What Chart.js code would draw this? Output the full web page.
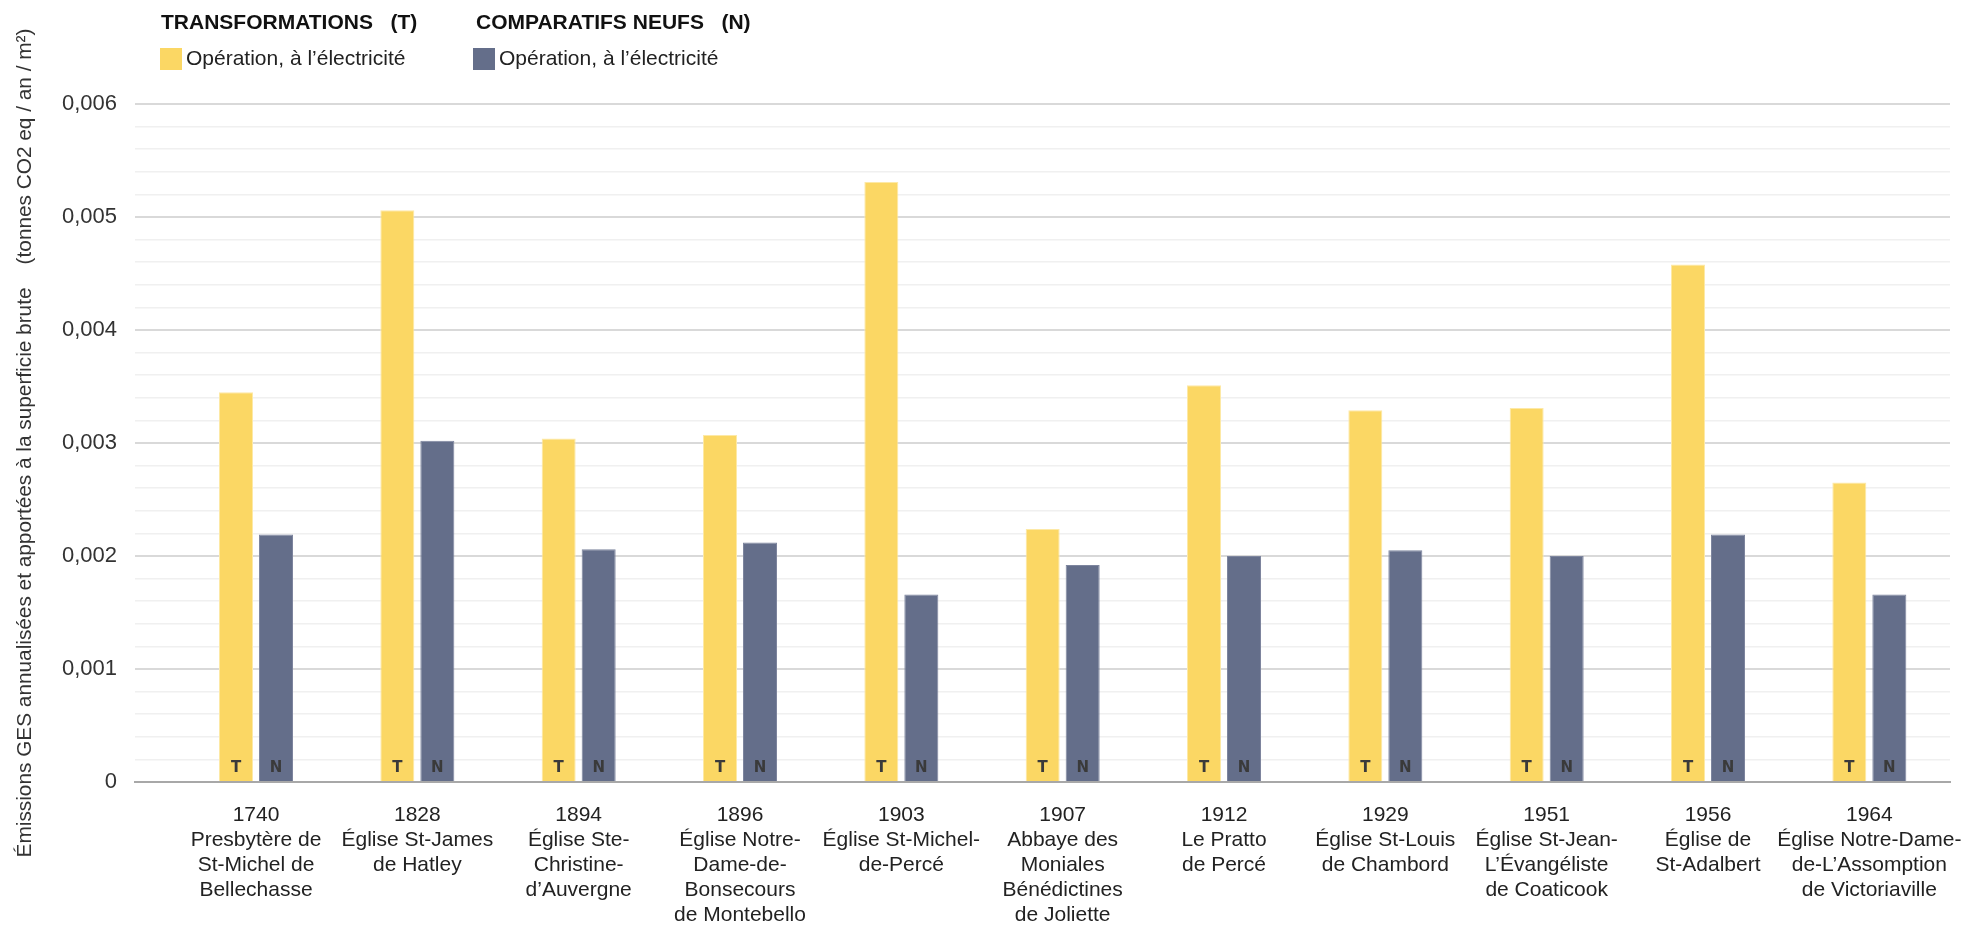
<!DOCTYPE html>
<html>
<head>
<meta charset="utf-8">
<script src="https://cdn.jsdelivr.net/npm/chart.js@4.4.1/dist/chart.umd.min.js"></script>
<style>
  html, body { margin: 0; padding: 0; background: #ffffff; overflow: hidden; }
  #wrap { position: relative; width: 1963px; height: 926px; }
</style>
</head>
<body>
<div id="wrap"><canvas id="chart" width="1963" height="926"></canvas></div>
<script>
// Construction year and building name (one entry per line of the axis label)
const years = ['1740', '1828', '1894', '1896', '1903', '1907', '1912', '1929', '1951', '1956', '1964'];
const buildings = [
  ['Presbytère de', 'St-Michel de', 'Bellechasse'],
  ['Église St-James', 'de Hatley'],
  ['Église Ste-', 'Christine-', 'd’Auvergne'],
  ['Église Notre-', 'Dame-de-', 'Bonsecours', 'de Montebello'],
  ['Église St-Michel-', 'de-Percé'],
  ['Abbaye des', 'Moniales', 'Bénédictines', 'de Joliette'],
  ['Le Pratto', 'de Percé'],
  ['Église St-Louis', 'de Chambord'],
  ['Église St-Jean-', 'L’Évangéliste', 'de Coaticook'],
  ['Église de', 'St-Adalbert'],
  ['Église Notre-Dame-', 'de-L’Assomption', 'de Victoriaville']
];

// Annual operating emissions, electricity (t CO2 eq / yr / m²)
const transformations = [0.00345, 0.00506, 0.00304, 0.00307, 0.00531, 0.00224, 0.00351, 0.00329, 0.00331, 0.00458, 0.00265];
const comparatifsNeufs = [0.00219, 0.00302, 0.00206, 0.00212, 0.00166, 0.00192, 0.00200, 0.00205, 0.00200, 0.00219, 0.00166];

const seriesCodes = ['T', 'N'];
const seriesHeadings = ['TRANSFORMATIONS   (T)', 'COMPARATIFS NEUFS   (N)'];
const seriesLabels = ['Opération, à l’électricité', 'Opération, à l’électricité'];
const seriesColors = ['#FBD764', '#646E8A'];
const seriesBorders = ['#FDE9A6', '#7D859E'];

const yAxisTitle = 'Émissions GES annualisées et apportées à la superficie brute    (tonnes CO2 eq / an / m²)';
const yMax = 0.006;
const yStep = 0.0002;   // minor grid step
const yMajorEvery = 5;  // labelled every 0.001

const FONT = '"Liberation Sans", Arial, sans-serif';

const toPoints = arr => arr.map((v, i) => ({ x: i, y: v }));

// Draws the "T" / "N" marker at the foot of each bar
const barCodes = {
  id: 'barCodes',
  afterDatasetsDraw(chart) {
    const ctx = chart.ctx;
    ctx.save();
    ctx.font = 'bold 15px "DejaVu Sans", sans-serif';
    ctx.fillStyle = '#3a3a3a';
    ctx.textAlign = 'center';
    ctx.textBaseline = 'middle';
    chart.data.datasets.forEach((ds, d) => {
      chart.getDatasetMeta(d).data.forEach(bar => {
        ctx.fillText(seriesCodes[d], bar.x, bar.base - 13);
      });
    });
    ctx.restore();
  }
};

// Two-column legend with bold headings above the swatches
const headedLegend = {
  id: 'headedLegend',
  afterDraw(chart) {
    const ctx = chart.ctx;
    const cols = [{ head: 161, box: 160, text: 186 }, { head: 476, box: 473, text: 499 }];
    ctx.save();
    ctx.textBaseline = 'alphabetic';
    ctx.textAlign = 'left';
    cols.forEach((c, i) => {
      ctx.font = 'bold 21px ' + FONT;
      ctx.fillStyle = '#111111';
      ctx.fillText(seriesHeadings[i], c.head, 29);
      ctx.fillStyle = seriesColors[i];
      ctx.fillRect(c.box, 48, 22, 22);
      ctx.font = '21px ' + FONT;
      ctx.fillStyle = '#222222';
      ctx.fillText(seriesLabels[i], c.text, 65);
    });
    ctx.restore();
  }
};

new Chart(document.getElementById('chart'), {
  type: 'bar',
  data: {
    datasets: [
      {
        label: seriesHeadings[0],
        data: toPoints(transformations),
        backgroundColor: seriesColors[0],
        borderColor: seriesBorders[0],
        borderWidth: 1
      },
      {
        label: seriesHeadings[1],
        data: toPoints(comparatifsNeufs),
        backgroundColor: seriesColors[1],
        borderColor: seriesBorders[1],
        borderWidth: 1
      }
    ]
  },
  options: {
    responsive: false,
    animation: false,
    devicePixelRatio: 1,
    categoryPercentage: 0.496,
    barPercentage: 0.85,
    layout: { padding: { top: 104, right: 13, bottom: 0, left: 0 } },
    plugins: {
      legend: { display: false },
      tooltip: { enabled: false }
    },
    scales: {
      x: {
        type: 'linear',
        offset: false,
        min: -0.75,
        max: 10.5,
        grid: { display: false, drawTicks: false },
        border: { display: true, color: '#a8a8a8', width: 2 },
        afterBuildTicks(scale) {
          scale.ticks = years.map((_, i) => ({ value: i }));
        },
        afterFit(scale) {
          scale.height = 144;
          scale.paddingLeft = 0;
          scale.paddingRight = 0;
        },
        ticks: {
          autoSkip: false,
          maxRotation: 0,
          minRotation: 0,
          padding: 21,
          color: '#222222',
          font: { family: FONT, size: 21, lineHeight: '25px' },
          callback: (v) => [years[v]].concat(buildings[v])
        }
      },
      y: {
        min: 0,
        max: yMax,
        grid: {
          drawTicks: false,
          color: ctx => (ctx.index % yMajorEvery === 0 ? '#d9d9d9' : '#f0f0f0'),
          lineWidth: ctx => (ctx.index % yMajorEvery === 0 ? 2 : 1.6)
        },
        border: { display: false },
        afterBuildTicks(scale) {
          const n = Math.round(yMax / yStep);
          const ticks = [];
          for (let i = 0; i <= n; i++) ticks.push({ value: +(i * yStep).toFixed(4) });
          scale.ticks = ticks;
        },
        afterFit(scale) { scale.width = 135; },
        ticks: {
          autoSkip: false,
          padding: 18,
          color: '#333333',
          font: { family: FONT, size: 22 },
          callback: (v, i) => {
            if (i % yMajorEvery !== 0) return '';
            return v === 0 ? '0' : v.toFixed(3).replace('.', ',');
          }
        },
        title: {
          display: true,
          text: yAxisTitle,
          color: '#333333',
          font: { family: FONT, size: 20.8 },
          padding: { top: 13, bottom: 0 }
        }
      }
    }
  },
  plugins: [barCodes, headedLegend]
});
</script>
</body>
</html>
